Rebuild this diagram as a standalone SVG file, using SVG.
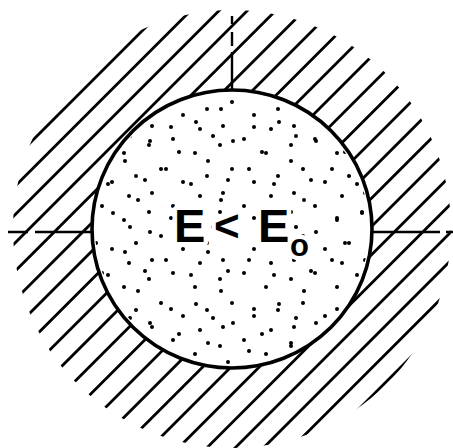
<svg xmlns="http://www.w3.org/2000/svg" width="453" height="448" viewBox="0 0 453 448">
<style>
.hatch{stroke:#000;stroke-width:2.8;fill:none;stroke-linecap:round}
.dash{stroke:#000;stroke-width:2.4;fill:none}
.dot{fill:#000}
.lbl{font-family:"Liberation Sans",Arial,sans-serif;font-weight:bold;fill:#000;stroke:#fff;stroke-width:9;paint-order:stroke;stroke-linejoin:round}
</style>
<defs>
<clipPath id="ring"><path clip-rule="evenodd" d="M13,229 A219,219 0 1,0 451,229 A219,219 0 1,0 13,229 Z M92,229 A140,139 0 1,1 372,229 A140,139 0 1,1 92,229 Z"/></clipPath>
<clipPath id="inner"><ellipse cx="232" cy="229" rx="137" ry="136"/></clipPath>
<pattern id="dotsA" width="71" height="67" patternUnits="userSpaceOnUse">
<g class="dot"><circle cx="7" cy="11" r="2"/><circle cx="31" cy="5" r="2"/><circle cx="53" cy="19" r="2"/><circle cx="65" cy="42" r="2"/><circle cx="19" cy="35" r="2"/><circle cx="41" cy="48" r="2"/><circle cx="10" cy="59" r="2"/><circle cx="58" cy="62" r="2"/></g>
</pattern>
<pattern id="dotsB" width="83" height="91" patternUnits="userSpaceOnUse" x="17" y="9">
<g class="dot"><circle cx="13" cy="22" r="2"/><circle cx="38" cy="9" r="2"/><circle cx="71" cy="27" r="2"/><circle cx="50" cy="41" r="2"/><circle cx="25" cy="61" r="2"/><circle cx="66" cy="69" r="2"/><circle cx="8" cy="84" r="2"/><circle cx="45" cy="80" r="2"/><circle cx="79" cy="52" r="2"/><circle cx="30" cy="36" r="2"/></g>
</pattern>
</defs>
<rect width="453" height="448" fill="#fff"/>
<g id="hatching" clip-path="url(#ring)">
<path class="hatch" d="M173,0 L-277,450 M201.3,0 L-248.7,450 M229.7,0 L-220.3,450 M258,0 L-192,450 M286.3,0 L-163.7,450 M314.7,0 L-135.3,450 M343,0 L-107,450 M371.3,0 L-78.7,450 M399.7,0 L-50.3,450 M428,0 L-22,450 M456.3,0 L6.3,450 M484.7,0 L34.7,450 M513,0 L63,450 M541.3,0 L91.3,450 M569.7,0 L119.7,450 M598,0 L148,450 M626.3,0 L176.3,450 M654.7,0 L204.7,450 M683,0 L233,450 M711.3,0 L261.3,450 M739.7,0 L289.7,450 M768,0 L318,450"/>
</g>
<g id="stipple" clip-path="url(#inner)">
<rect x="90" y="88" width="284" height="282" fill="url(#dotsA)"/>
<rect x="90" y="88" width="284" height="282" fill="url(#dotsB)"/>
</g>
<g id="axes">
<path class="dash" d="M232,16 V24 M232,32 V46 M232,52 V90"/>
<path class="dash" d="M8,232 H28 M35,232 H92"/>
<path class="dash" d="M372,232 H440 M446,232 H453"/>
</g>
<g id="region">
<ellipse cx="232" cy="229" rx="140" ry="139" fill="none" stroke="#000" stroke-width="3.6"/>
</g>
<g id="label">
<text class="lbl" font-size="47" x="174" y="242">E</text>
<text class="lbl" font-size="44" x="214" y="241">&lt;</text>
<text class="lbl" font-size="47" x="258" y="242">E</text>
<text class="lbl" font-size="31" x="290" y="256">o</text>
</g>
</svg>
